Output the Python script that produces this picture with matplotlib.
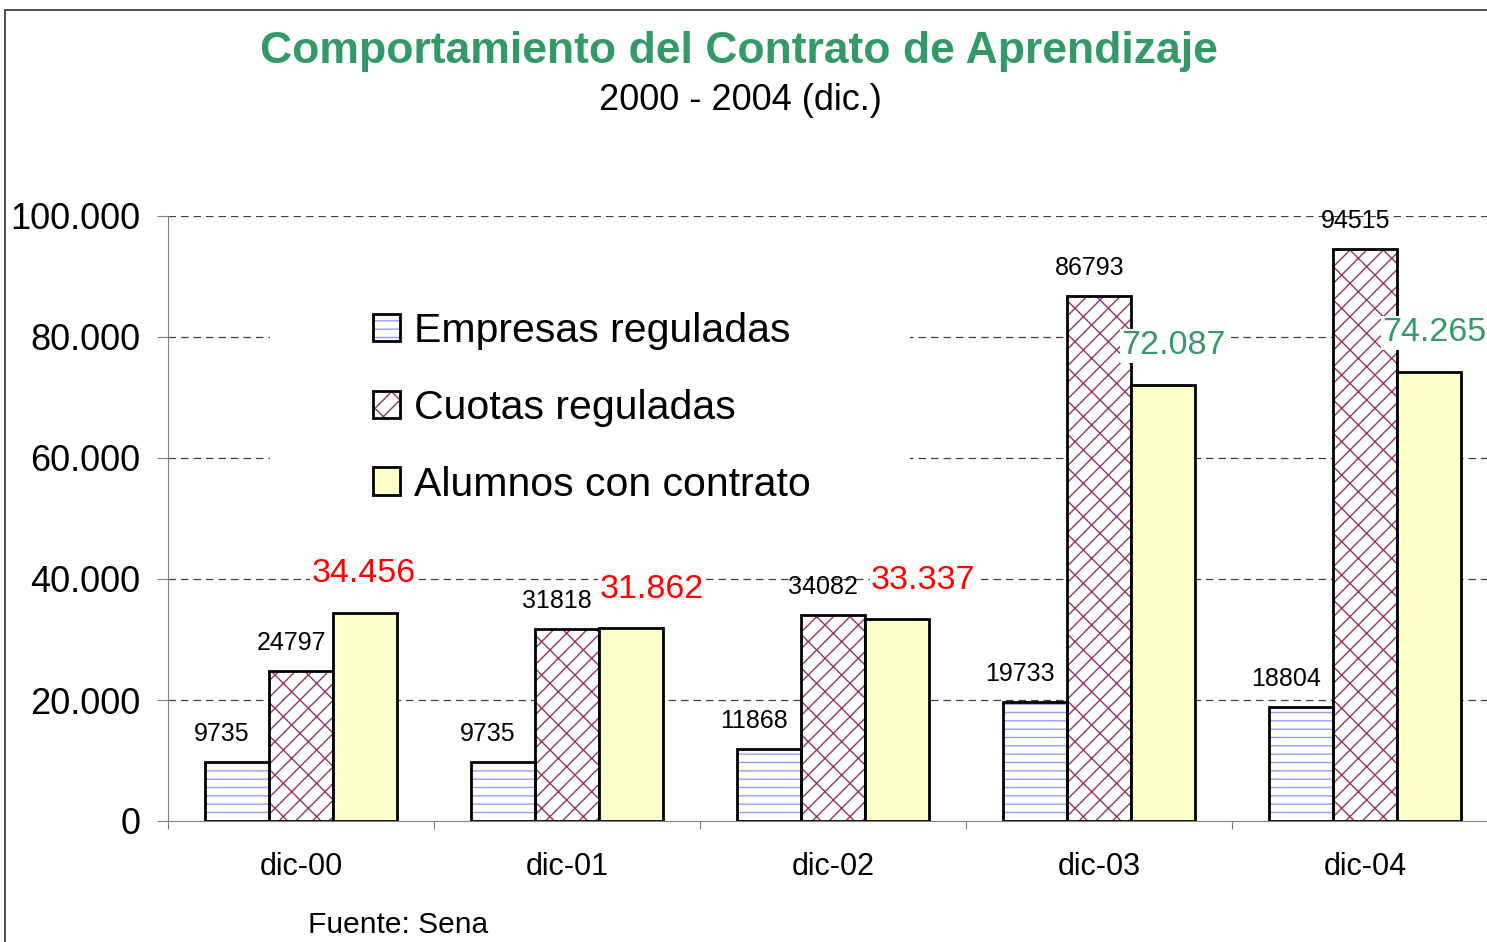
import matplotlib.pyplot as plt
import numpy as np
from matplotlib.patches import Rectangle
from matplotlib.legend_handler import HandlerTuple
from matplotlib.ticker import FuncFormatter

plt.rcParams['font.family'] = ['Liberation Sans', 'DejaVu Sans']

# datos
categorias = ['dic-00', 'dic-01', 'dic-02', 'dic-03', 'dic-04']
empresas = [9735, 9735, 11868, 19733, 18804]
cuotas = [24797, 31818, 34082, 86793, 94515]
alumnos = [34456, 31862, 33337, 72087, 74265]
etiquetas_alumnos = ['34.456', '31.862', '33.337', '72.087', '74.265']
colores_alumnos = ['#ff0000', '#ff0000', '#ff0000', '#339966', '#339966']
series = ['Empresas reguladas', 'Cuotas reguladas', 'Alumnos con contrato']

fig = plt.figure(figsize=(14.87, 9.42), dpi=100)
ax = fig.add_axes([168 / 1487, 121 / 942, 1330 / 1487, 605 / 942])

x = np.arange(len(categorias))
w = 0.24

# barras: relleno con trama + contorno negro
b1 = ax.bar(x - w, empresas, w, color='white', edgecolor='#9999ff', hatch='--', linewidth=0, zorder=2)
b1o = ax.bar(x - w, empresas, w, fill=False, edgecolor='black', linewidth=2, zorder=3)
b2 = ax.bar(x, cuotas, w, color='white', edgecolor='#993366', hatch='x/', linewidth=0, zorder=2)
b2o = ax.bar(x, cuotas, w, fill=False, edgecolor='black', linewidth=2, zorder=3)
b3 = ax.bar(x + w, alumnos, w, color='#ffffcc', edgecolor='black', linewidth=2, zorder=3)

# etiquetas pequeñas
for i in range(len(categorias)):
    ax.annotate(str(empresas[i]), (x[i] - w, empresas[i]), xytext=(-11, 20), textcoords='offset points',
                ha='center', va='center', fontsize=18, zorder=6)
    ax.annotate(str(cuotas[i]), (x[i], cuotas[i]), xytext=(-7, 20), textcoords='offset points',
                ha='center', va='center', fontsize=18, zorder=6)

# etiquetas de alumnos
dx = [-1, 15, 19, 8, 4]
for i in range(len(categorias)):
    ax.annotate(etiquetas_alumnos[i], (x[i] + w, alumnos[i]), xytext=(dx[i], 28), textcoords='offset points',
                ha='center', va='center', fontsize=24.5, color=colores_alumnos[i], zorder=6,
                bbox=dict(facecolor='white', edgecolor='none', pad=1))

ax.set_xlim(-0.5, len(categorias) - 0.5)
ax.set_ylim(0, 100000)
ax.set_yticks(np.arange(0, 100001, 20000))
ax.yaxis.set_major_formatter(FuncFormatter(lambda v, p: f'{int(v):,}'.replace(',', '.')))
ax.tick_params(axis='y', labelsize=26, length=8, color='#808080', pad=12)

ax.set_xticks(np.arange(-0.5, len(categorias), 1))
ax.set_xticklabels([])
ax.set_xticks(x, minor=True)
ax.set_xticklabels(categorias, minor=True)
ax.tick_params(axis='x', which='major', length=6, color='#808080', direction='out')
ax.tick_params(axis='x', which='minor', length=0, labelsize=22, pad=22)

for v in range(20000, 100001, 20000):
    ax.axhline(v, color='#404040', lw=0.9, ls=(0, (6, 4)), zorder=1)

for s in ['top', 'right']:
    ax.spines[s].set_visible(False)
ax.spines['left'].set_color('#808080')
ax.spines['bottom'].set_color('#808080')

# fondo blanco de la leyenda
ax.add_patch(Rectangle((270 / 1487, 1 - 520 / 942), 640 / 1487, 230 / 942, transform=fig.transFigure,
                       facecolor='white', edgecolor='none', zorder=1.5))

leg = ax.legend([(b1[0], b1o[0]), (b2[0], b2o[0]), b3[0]], series,
                handler_map={tuple: HandlerTuple(ndivide=1)},
                loc='upper left', bbox_to_anchor=(340 / 1487, 1 - 279 / 942), bbox_transform=fig.transFigure,
                fontsize=29.5, frameon=False, borderpad=0.3,
                handlelength=0.66, handleheight=0.66, handletextpad=0.35, labelspacing=0.95)
leg.set_zorder(4)

fig.text(739 / 1487, 1 - 52 / 942, 'Comportamiento del Contrato de Aprendizaje', ha='center', va='center',
         fontsize=32, fontweight='bold', color='#339966')
fig.text(740 / 1487, 1 - 101 / 942, '2000 - 2004 (dic.)', ha='center', va='center', fontsize=26)
fig.text(308 / 1487, 1 - 925 / 942, 'Fuente: Sena', ha='left', va='center', fontsize=21.5)

fig.patches.append(Rectangle((5 / 1487, -0.05), 1.2, 1 - 10 / 942 + 0.05, transform=fig.transFigure,
                             fill=False, edgecolor='#303030', lw=1.2, zorder=0))

plt.savefig('out.png')
